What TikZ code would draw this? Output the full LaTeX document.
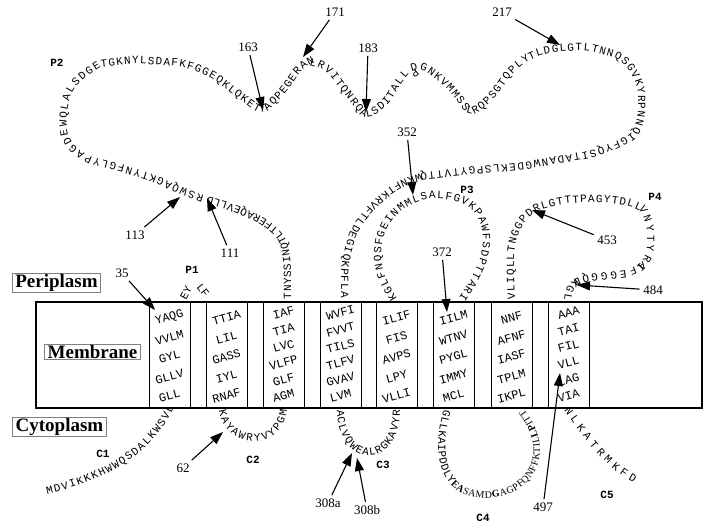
\documentclass[tikz,border=0pt]{standalone}
\usepackage{fontspec}
\setmainfont{Liberation Serif}
\setmonofont{Liberation Mono}
\usetikzlibrary{arrows.meta,decorations.text}
\newcommand\seqfont{\fontsize{11}{11}\selectfont\ttfamily}

\begin{document}
\begin{tikzpicture}[x=1pt, y=-1pt,
    every node/.style={font=\fontsize{13}{13}\selectfont},
    region/.style={draw=gray, thin, inner xsep=3pt, inner ysep=1pt, font=\fontsize{19}{19}\selectfont\bfseries},
    helix/.style={draw, line width=0.9pt},
    res/.style={font=\fontsize{12}{12}\selectfont\ttfamily, rotate=15, inner sep=0pt},
    loopname/.style={font=\fontsize{11}{11}\selectfont\ttfamily\bfseries},
    pin/.style={-{Triangle[length=13pt,width=9pt]}, line width=1.1pt},
    seq/.style={decorate, decoration={text along path, text align=fit to path, text={|\seqfont|#1}}}]

    \useasboundingbox (0,0) rectangle (707,528);

    % membrane and helices
    \draw[line width=1.2pt] (36,302) rectangle (702,408);
    \foreach \n/\x/\y/\dy/\rows in {
        1/169.5/318/19.5/{YAQG,VVLM,GYL,GLLV,GLL},
        2/226.5/318/19.5/{TTIA,LIL,GASS,IYL,RNAF},
        3/283.5/313/16.6/{IAF,TIA,LVC,VLFP,GLF,AGM},
        4/340.5/313/16.6/{WVFI,FVVT,TILS,TLFV,GVAV,LVM},
        5/396.5/318/19.5/{ILIF,FIS,AVPS,LPY,VLLI},
        6/453.5/318/19.5/{IILM,WTNV,PYGL,IMMY,MCL},
        7/511.5/318/19.5/{NNF,AFNF,IASF,TPLM,IKPL},
        8/568.5/313/16.6/{AAA,TAI,FIL,VLL,LAG,VIA}} {
        \draw[helix] (\x-20.5,302) rectangle (\x+20.5,408);
        \foreach \r [count=\k] in \rows
            \node[res] (tm\n-\k) at (\x,\y+\k*\dy-\dy) {\r};
    }

    % compartments
    \node[region] (peri) at (56.5,283) {Periplasm};
    \node[region] (memb) at (92.5,351.5) {Membrane};
    \node[region] (cyto) at (59.5,426.5) {Cytoplasm};

    % periplasmic loops (P2 in pieces)
    \node[font=\seqfont, rotate=62, inner sep=0pt] (p1a) at (186,293) {EY};
    \node[font=\seqfont, rotate=-52, inner sep=0pt] (p1b) at (203,290) {LF};
    \path[seq={TNYSSINQTLTFERAQEVLLD}, rounded corners=10pt]
        (291,299) -- (291,260) -- (286,236) -- (265,218) -- (235,205) -- (208,196);
    \path[seq={RSWQAGKTYNFGLYPAGDEWQLALSDGE}, rounded corners=10pt]
        (204,195) -- (185,189) -- (153,174) -- (115,163) -- (85,155) -- (68,140) -- (66,115)
        -- (72,90) -- (92,72) -- (101,67);
    \path[seq={TGKNYLSDAFKFGGEQKLQKETTAQPEGERAN}, rounded corners=10pt]
        (101,67) -- (135,63) -- (185,67) -- (212,78) -- (235,96) -- (262,116) -- (285,95)
        -- (303,68) -- (309,65);
    \path[seq={LRVITQNRQALSDITALLPDGNKVMMSSLRQPSGTQPLY}, rounded corners=10pt]
        (309,65) -- (325,69) -- (343,93) -- (365,121) -- (388,106) -- (405,77) -- (418,66)
        -- (445,86) -- (470,118) -- (492,102) -- (515,70) -- (530,60);
    \path[seq={TLDGLGTLTNNQSGVKYRPNNQ}, rounded corners=10pt]
        (530,60) -- (545,53) -- (585,50) -- (622,60) -- (638,85) -- (638,120) -- (632,132);
    \path[seq={IGFYQSITADANWGDEKLSPGYTVTTQ}, rounded corners=10pt]
        (632,132) -- (622,140) -- (590,151) -- (520,163) -- (460,168) -- (420,173);
    \path[seq={WKNFTKRVFTLDEGIQKPFLA}, rounded corners=10pt]
        (420,173) -- (395,183) -- (370,203) -- (350,230) -- (341,265) -- (341,298);
    \path[seq={KGLFNQSFGEINMMLSALFGVKPAWFSDPTTARI}, rounded corners=10pt]
        (397,298) -- (386,280) -- (380,258) -- (384,232) -- (398,212) -- (420,200) -- (440,198)
        -- (462,202) -- (478,215) -- (484,236) -- (481,258) -- (471,280) -- (459,298);
    \path[seq={VLIQLLTNGGPDRLGTTTPAGYTDLL}, rounded corners=10pt]
        (515,299) -- (514,270) -- (514,248) -- (520,228) -- (533,212) -- (560,204) -- (600,202)
        -- (630,206) -- (640,211);
    \path[seq={VNYTYRIAFEGGGQDKGL}, rounded corners=10pt]
        (640,211) -- (645,218) -- (648,240) -- (645,260) -- (634,269) -- (605,273) -- (582,275)
        -- (567,283) -- (564,300);

    % cytoplasmic loops
    \path[seq={MDVIKKKHWWQSDALKWSVL}] (47,494) .. controls (100,482) and (150,458) .. (174,408);
    \path[seq={KAYAWRYVYPGM}] (219,410) .. controls (225,452) and (283,452) .. (287,410);
    \path[seq={ACLVQWEALRGKAVYR}] (337,410) .. controls (338,470) and (400,472) .. (400,410);
    \path[seq={GLLKAIPDDLY|\bfseries|EA|\mdseries|SAMD|\bfseries|G|\mdseries|AGPFQNFFKTIL|\bfseries|LP|\mdseries|ITT}]
        (444,410) .. controls (430,455) and (440,500) .. (488,498) .. controls (530,497) and (560,455) .. (524,410);
    \path[seq={NLKATRMKFD}] (564,410) .. controls (585,440) and (605,468) .. (634,483);

    % loop names
    \node[loopname] (p1) at (192,270) {P1};
    \node[loopname] (p2) at (57,63) {P2};
    \node[loopname] (p3) at (467,190) {P3};
    \node[loopname] (p4) at (655,197) {P4};
    \node[loopname] (c1) at (103,454) {C1};
    \node[loopname] (c2) at (253,460) {C2};
    \node[loopname] (c3) at (383,465) {C3};
    \node[loopname] (c4) at (483,518) {C4};
    \node[loopname] (c5) at (607,495) {C5};

    % residue numbers
    \foreach \lab/\lx/\ly/\tx/\ty in {
        163/248/47/263/110, 171/335/12/303/57, 183/368/48/366/112, 217/502/12/560/45,
        113/135/235/180/197, 111/230/253/207/198, 35/122/273/155/310, 352/407/132/413/195,
        372/442/252/447/312, 453/607/240/532/210, 484/653/290/577/285, 62/183/468/223/432,
        308a/328/503/352/453, 308b/367/510/357/458, 497/543/507/560/373} {
        \node (n\lab) at (\lx,\ly) {\lab};
        \coordinate (t\lab) at (\tx,\ty);
        \draw[pin] (n\lab) -- (t\lab);
    }
\end{tikzpicture}
\end{document}
